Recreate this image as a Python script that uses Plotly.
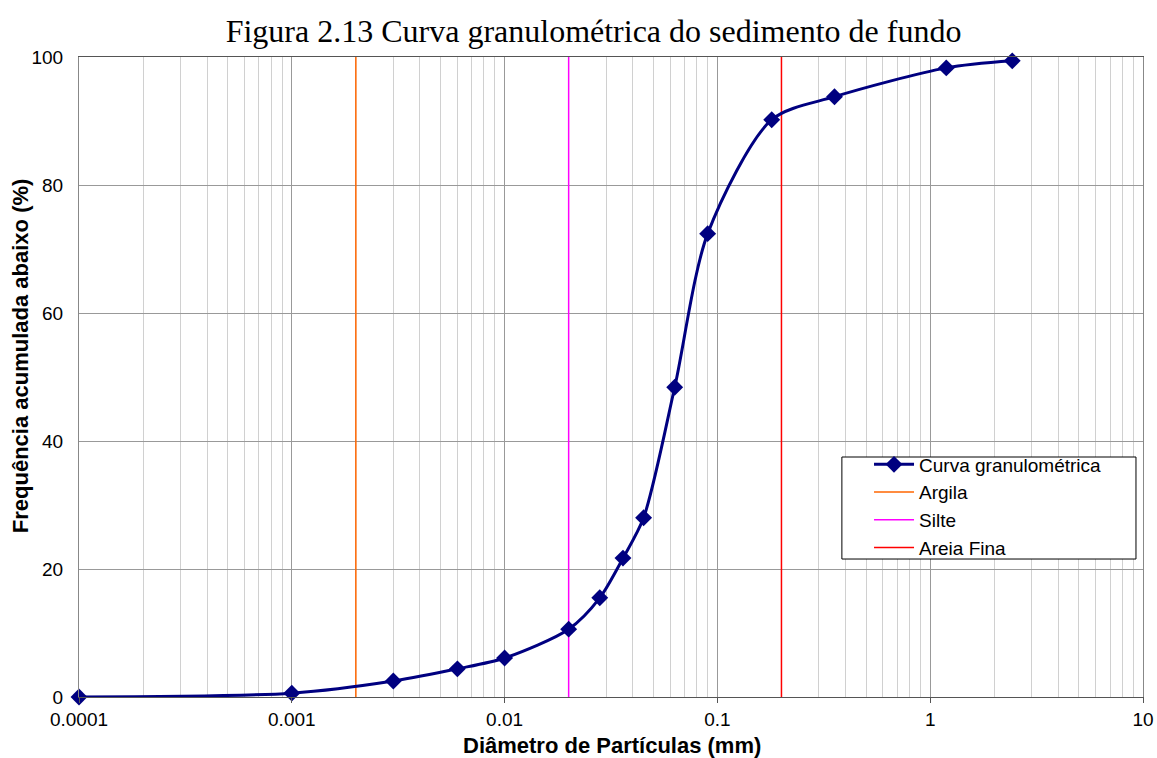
import plotly.graph_objects as go

# dados da curva granulométrica
diametro = [0.0001, 0.001, 0.003, 0.006, 0.01, 0.02, 0.028, 0.036, 0.045, 0.063, 0.09, 0.18, 0.355, 1.19, 2.43]
freq_acum = [0.0, 0.6, 2.5, 4.4, 6.1, 10.6, 15.5, 21.7, 28.0, 48.4, 72.4, 90.2, 93.8, 98.3, 99.4]

# limites das classes
limites = {"Argila": 0.002, "Silte": 0.02, "Areia Fina": 0.2}
cores = {"Argila": "#FF6600", "Silte": "#FF00FF", "Areia Fina": "#FF0000"}

x_ticks = [0.0001, 0.001, 0.01, 0.1, 1, 10]
x_ticktext = ["0.0001", "0.001", "0.01", "0.1", "1", "10"]
y_ticks = [0, 20, 40, 60, 80, 100]

fig = go.Figure()
for nome, d in limites.items():
    fig.add_trace(go.Scatter(
        x=[d, d], y=[0, 100], mode="lines", name=nome,
        line=dict(color=cores[nome], width=1.5), legendrank=2,
    ))
fig.add_trace(go.Scatter(
    x=diametro, y=freq_acum, mode="lines+markers", name="Curva granulométrica",
    line=dict(color="#000080", width=3, shape="spline", smoothing=0.8),
    marker=dict(symbol="diamond", size=13, color="#000080"),
    cliponaxis=False, legendrank=1,
))

fig.update_layout(
    width=1157, height=758,
    margin=dict(l=79, r=14, t=57, b=61),
    paper_bgcolor="white", plot_bgcolor="white",
    font=dict(family="Liberation Sans, Arial", size=19, color="black"),
    title=dict(text="Figura 2.13 Curva granulométrica do sedimento de fundo",
               x=0.513, xanchor="center", y=0.960, yanchor="middle",
               font=dict(family="Liberation Serif, Times New Roman", size=32, color="black")),
    legend=dict(x=0.7425, y=0.393, xanchor="left", yanchor="top",
                bgcolor="rgba(0,0,0,0)", borderwidth=0,
                font=dict(size=19), tracegroupgap=0, itemwidth=40),
    showlegend=True,
    shapes=[dict(type="rect", xref="paper", yref="paper",
                 x0=0.717, x1=0.9934, y0=0.2156, y1=0.375,
                 fillcolor="white", line=dict(color="black", width=1), layer="above")],
    annotations=[
        dict(text="<b>Frequência acumulada abaixo (%)</b>", textangle=-90,
             xref="paper", yref="paper", x=-0.0555, y=0.534,
             xanchor="center", yanchor="middle", showarrow=False, font=dict(size=22)),
        dict(text="<b>Diâmetro de Partículas (mm)</b>",
             xref="paper", yref="paper", x=0.501, y=-0.075,
             xanchor="center", yanchor="middle", showarrow=False, font=dict(size=22)),
    ],
)
fig.update_xaxes(
    type="log", range=[-4, 1], automargin=False,
    tickvals=x_ticks, ticktext=x_ticktext,
    showgrid=True, gridcolor="#999999", gridwidth=1,
    minor=dict(dtick="D1", showgrid=True, gridcolor="#D0D0D0", gridwidth=1, ticks=""),
    showline=True, linecolor="#555555", linewidth=1, mirror=True,
    ticks="outside", ticklen=5, tickcolor="#555555",
    zeroline=False,
)
fig.update_yaxes(
    range=[0, 100], tickvals=y_ticks, automargin=False,
    showgrid=True, gridcolor="#999999", gridwidth=1,
    showline=True, linecolor="#888888", linewidth=1, mirror=True,
    ticks="", ticklabelstandoff=11,
    zeroline=False,
)

# sem margem no body para a figura ocupar a janela toda
fig.write_html("out.html", config={"displayModeBar": False},
               post_script="document.body.style.margin='0';document.body.style.overflow='hidden';")
